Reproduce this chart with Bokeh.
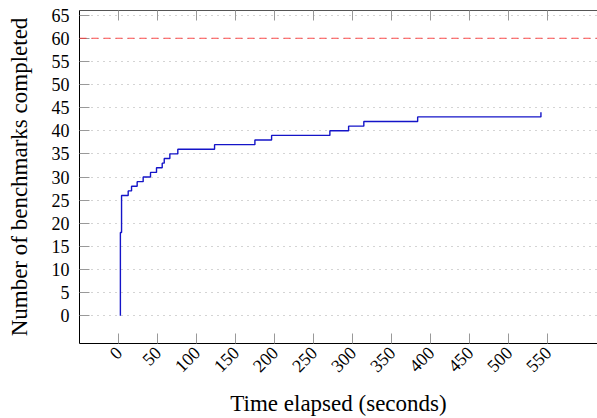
from bokeh.plotting import figure
from bokeh.models import LinearAxis, Span, FixedTicker, Range1d
from bokeh.embed import file_html
from bokeh.resources import INLINE

# data
times = [2, 2, 3.5, 12, 16.3, 23.5, 31.2, 40.6, 48.3, 55.6, 58.2, 65.4, 75.6,
         122.7, 174.4, 195.8, 270.5, 294.5, 314, 383, 541]
completed = [0, 18, 26, 27, 28, 29, 30, 31, 32, 33, 34, 35, 36,
             37, 38, 39, 40, 41, 42, 43, 44]
total_benchmarks = 60
x_ticks = [0, 50, 100, 150, 200, 250, 300, 350, 400, 450, 500, 550]
y_ticks = [0, 5, 10, 15, 20, 25, 30, 35, 40, 45, 50, 55, 60, 65]

FONT = "Liberation Serif"

p = figure(width=597, height=418, output_backend="svg", toolbar_location=None,
           x_range=Range1d(-50.4, 613.5), y_range=Range1d(-6, 66),
           x_axis_label="Time elapsed (seconds)",
           y_axis_label="Number of benchmarks completed",
           min_border_left=79, min_border_top=10, min_border_bottom=75,
           min_border_right=0)
p.background_fill_color = "white"
p.border_fill_color = "white"
p.outline_line_color = None

# grid
p.xgrid.grid_line_color = None
p.ygrid.ticker = FixedTicker(ticks=y_ticks)
p.ygrid.grid_line_color = "#a8a8a8"
p.ygrid.grid_line_dash = "1 5"
p.ygrid.grid_line_width = 1

# bottom axis
xa = p.xaxis[0]
xa.ticker = FixedTicker(ticks=x_ticks)
xa.major_tick_in = 10
xa.major_tick_out = 0
xa.minor_tick_line_color = None
xa.major_tick_line_color = "#999999"
xa.axis_line_color = "black"
xa.major_label_orientation = 0.785398
xa.major_label_text_font = FONT
xa.major_label_text_font_size = "18px"
xa.major_label_text_color = "black"
xa.major_label_standoff = 6
xa.axis_label_text_font = FONT
xa.axis_label_text_font_size = "23px"
xa.axis_label_text_font_style = "normal"
xa.axis_label_text_color = "black"
xa.axis_label_standoff = 10

# left axis
ya = p.yaxis[0]
ya.ticker = FixedTicker(ticks=y_ticks)
ya.major_tick_in = 10
ya.major_tick_out = 0
ya.minor_tick_line_color = None
ya.major_tick_line_color = "#999999"
ya.axis_line_color = "black"
ya.major_label_text_font = FONT
ya.major_label_text_font_size = "18px"
ya.major_label_text_color = "black"
ya.major_label_standoff = 10
ya.axis_label_text_font = FONT
ya.axis_label_text_font_size = "23px"
ya.axis_label_text_font_style = "normal"
ya.axis_label_text_color = "black"
ya.axis_label_standoff = 17

# top axis (ticks and frame line only)
top = LinearAxis(ticker=FixedTicker(ticks=x_ticks), major_tick_in=10, major_tick_out=0,
                 minor_tick_line_color=None, major_tick_line_color="#999999",
                 axis_line_color="#555555", major_label_text_font_size="0px",
                 major_label_standoff=0, major_label_text_color=None)
p.add_layout(top, "above")

# threshold line
p.add_layout(Span(location=total_benchmarks, dimension="width",
                  line_color="#ff2020", line_alpha=0.8, line_dash="7 5", line_width=1.2))

# step line
p.step(times, completed, mode="after", line_color="#1414c8", line_width=1.4)

open("out.html", "w").write(file_html(p, INLINE))
